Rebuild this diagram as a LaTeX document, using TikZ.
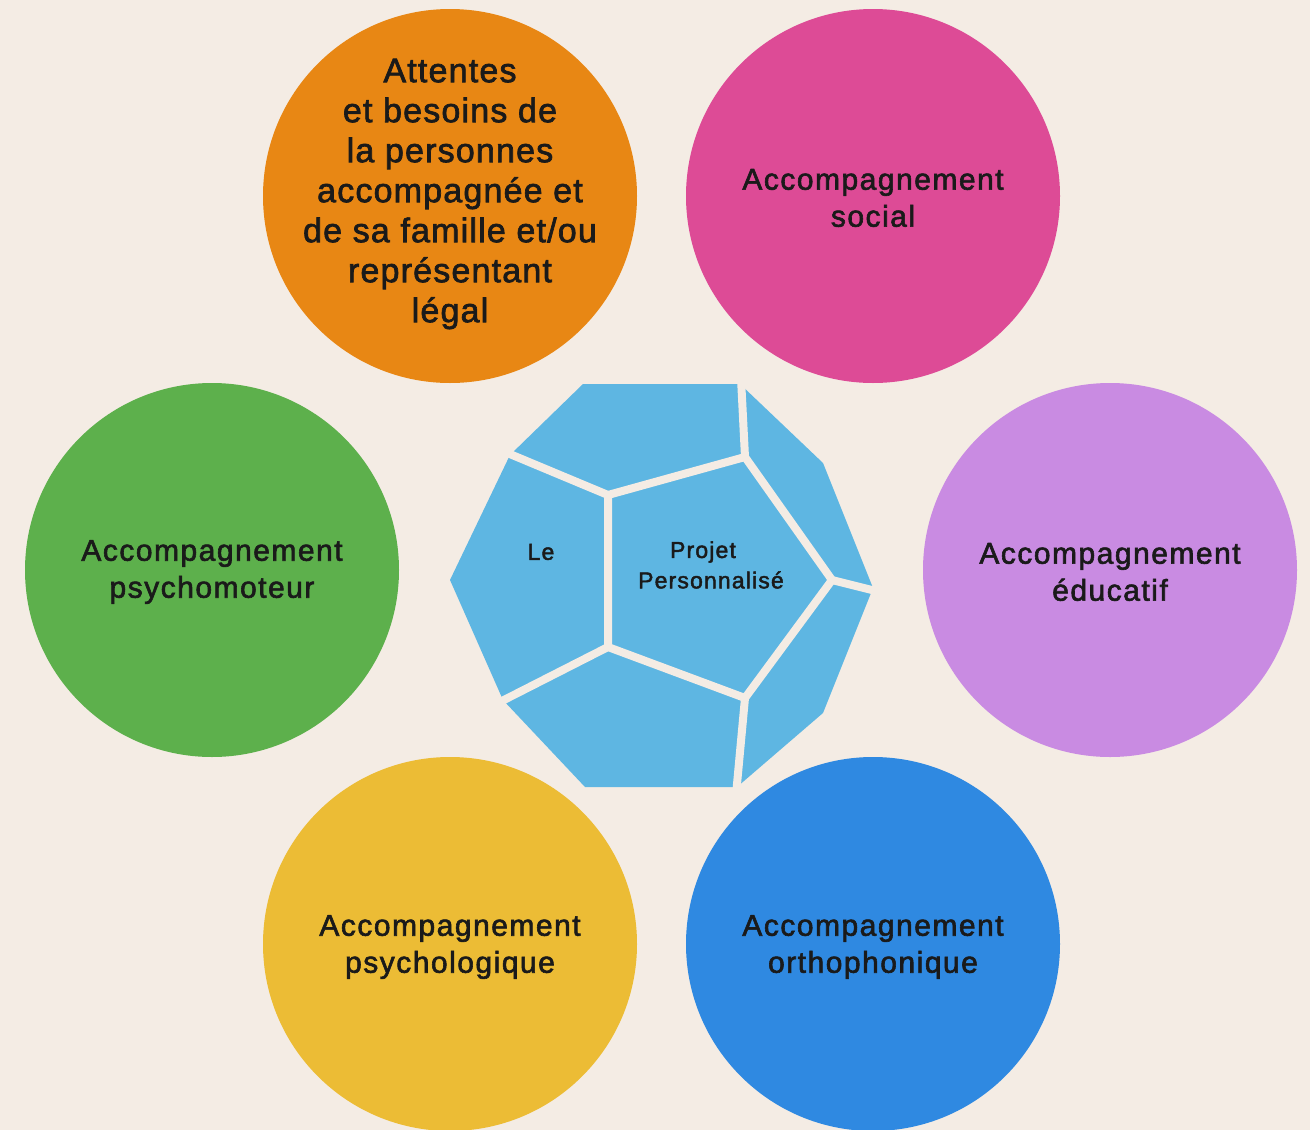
\documentclass[tikz,border=0pt]{standalone}
\usepackage{fontspec}
\setmainfont{Liberation Sans}
\newfontfamily\medfont{Liberation Sans}[FakeBold=2]
\definecolor{bg}{HTML}{F4ECE4}
\definecolor{corange}{HTML}{E88714}
\definecolor{cpink}{HTML}{DD4B96}
\definecolor{cgreen}{HTML}{5DB04C}
\definecolor{cpurple}{HTML}{C98BE2}
\definecolor{cyellow}{HTML}{ECBC35}
\definecolor{cblue}{HTML}{2F89E1}
\definecolor{ccyan}{HTML}{5EB6E2}
\definecolor{txt}{HTML}{1A1A1A}
\begin{document}
\begin{tikzpicture}[x=1pt,y=-1pt,
  circ/.style={circle, minimum size=374pt, inner sep=0pt},
  ltext/.style={align=center, inner sep=0pt, text=txt,
    font=\medfont\fontsize{30}{37}\selectfont\addfontfeature{LetterSpace=5}},
  ctext/.style={text=txt, align=center, inner sep=0pt,
    font=\medfont\fontsize{23}{27}\selectfont\addfontfeature{LetterSpace=5}},
  gap/.style={draw=bg, line width=8pt, line cap=round, line join=round}]
\fill[bg] (0,0) rectangle (1310,1130);
\useasboundingbox (0,0) rectangle (1310,1130);

% circles
\node[circ, fill=corange] (attentes) at (450,196) {};
\node[circ, fill=cpink] (social) at (873,196) {};
\node[circ, fill=cgreen] (psychomot) at (212,570) {};
\node[circ, fill=cpurple] (educ) at (1110,570) {};
\node[circ, fill=cyellow] (psycho) at (450,944) {};
\node[circ, fill=cblue] (ortho) at (873,944) {};

\node[ltext, font=\medfont\fontsize{34}{40}\selectfont\addfontfeature{LetterSpace=3.5}] (attentes-t) at (450,194)
  {Attentes\\et besoins de\\la personnes\\accompagnée et\\de sa famille et/ou\\représentant\\légal};
\node[ltext] (social-t) at (873,198) {Accompagnement\\social};
\node[ltext] (psychomot-t) at (212,572) {Accompagnement\\psychomoteur};
\node[ltext] (educ-t) at (1110,572) {Accompagnement\\éducatif};
\node[ltext] (psycho-t) at (450,947) {Accompagnement\\psychologique};
\node[ltext] (ortho-t) at (873,947) {Accompagnement\\orthophonique};

% dodecahedron
\fill[ccyan] (450,580) -- (510,455) -- (583,384) -- (740,384) -- (823,463)
  -- (873,588) -- (823,713) -- (737,787) -- (585,787) -- (503,700) -- cycle;
\coordinate (p1) at (608,495);
\coordinate (p2) at (745,457);
\coordinate (p3) at (832,580);
\coordinate (p4) at (745,698);
\coordinate (p5) at (608,647);
\draw[gap] (p1) -- (p2) -- (p3) -- (p4) -- (p5) -- cycle;
\draw[gap] (p1) -- (505,452);
\draw[gap] (p2) -- (741,378);
\draw[gap] (p3) -- (880,592);
\draw[gap] (p4) -- (736,795);
\draw[gap] (p5) -- (498,703);

\node[ctext] (le) at (541,552) {Le};
\node[ctext] (projet) at (703,552) {Projet};
\node[ctext] (perso) at (711,580) {Personnalisé};
\end{tikzpicture}
\end{document}
